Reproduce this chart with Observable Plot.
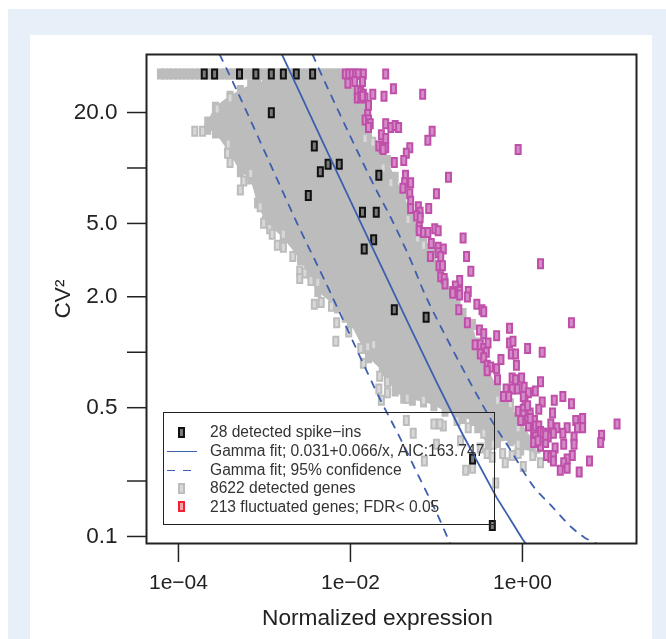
<!DOCTYPE html>
<html>
<head>
<meta charset="utf-8">
<script src="https://cdn.jsdelivr.net/npm/d3@7"></script>
<script src="https://cdn.jsdelivr.net/npm/@observablehq/plot@0.6"></script>
<style>
html,body{margin:0;padding:0;background:#fff;width:666px;height:639px;overflow:hidden;font-family:"Liberation Sans",Arial,sans-serif}
#outer{position:absolute;left:8px;top:9px;right:0;bottom:0;background:#e7eff8}
#inner{position:absolute;left:30px;top:35px;width:622px;bottom:0;background:#fff}
#chart{position:absolute;left:0;top:0;filter:blur(0.5px)}
#chart svg{background:transparent;display:block}
#xtitle{position:absolute;left:262px;top:604px;font-size:22.7px;line-height:26px;color:#222;white-space:nowrap;filter:blur(0.3px)}
#legend{position:absolute;left:163px;top:412px;width:332px;height:113px;border:1.5px solid #222;box-sizing:border-box;filter:blur(0.35px);color:#333;font-size:15.6px}
#legend .row{position:absolute;left:46px;white-space:nowrap;line-height:18px}
#legend .s{position:absolute;box-sizing:border-box}
</style>
</head>
<body>
<div id="outer"></div>
<div id="inner"></div>
<div id="chart"></div>
<div id="xtitle"></div>
<div id="legend"></div>
<script>
// Values: log10(normalized expression) and log10(CV²)
const topRowLogCV = 1.51;
const topRowGrayLogX = [-4.21,-4.16,-4.11,-4.06,-4.01,-3.96,-3.91,-3.86,-3.81,-3.76,-3.71,-3.66,-3.61,-3.56,-3.51,-3.46,-3.41,-3.36,-3.31,-3.26,-3.21,-3.16,-3.11,-3.06,-3.01,-2.96,-2.91,-2.86,-2.81,-2.76,-2.71,-2.66,-2.61,-2.56,-2.51,-2.46,-2.41,-2.36,-2.31,-2.26,-2.21,-2.16,-2.12];

// Solid part of the gene cloud (upper and lower edge at each expression level)
const cloudLogX  = [-3.66,-3.57,-3.40,-3.28,-3.16,-3.08,-2.99,-2.78,-2.58,-2.38,-2.15,-2.06,-2.00,-1.85,-1.79,-1.63,-1.57,-1.48,-1.38,-1.28,-1.15,-1.03,-0.90,-0.76,-0.69,-0.58,-0.52,-0.40,-0.29,-0.14,-0.02,0.13];
const cloudLogHi = [1.25,1.33,1.39,1.42,1.45,1.46,1.47,1.49,1.49,1.49,1.49,1.47,1.41,1.32,1.19,1.12,1.04,0.95,0.86,0.74,0.63,0.54,0.38,0.28,0.21,0.15,0.05,-0.09,-0.19,-0.29,-0.38,-0.48];
const cloudLogLo = [1.21,1.19,1.08,0.98,0.94,0.81,0.71,0.62,0.50,0.33,0.24,0.19,0.16,0.02,-0.03,-0.10,-0.15,-0.21,-0.25,-0.26,-0.27,-0.29,-0.32,-0.34,-0.36,-0.37,-0.41,-0.51,-0.49,-0.48,-0.53,-0.54];

// Isolated grey genes on the edge of the cloud
const grayLogX = [-3.81,-3.72,-3.55,-3.40,-3.42,-3.43,-3.40,-3.24,-3.16,-3.28,-3.05,-3.01,-2.94,-2.91,-2.78,-2.85,-2.78,-2.67,-2.59,-2.53,-2.59,-2.46,-2.38,-2.42,-2.34,-2.22,-2.16,-2.17,-2.02,-1.88,-1.80,-1.73,-1.85,-1.66,-1.57,-1.67,-1.57,-1.64,-1.34,-1.15,-1.35,-1.27,-1.14,-1.00,-1.03,-0.92,-0.66,-0.58,-0.31,-0.34,-0.45,-0.76,-0.96,-0.63,-0.72,-0.49,-0.41,-0.35,-0.23,-0.20,-0.12,-0.05,0.01,0.12,0.21,-0.05,0.17,-1.62,-1.53,-1.33,-1.22,-1.15,-1.74,-1.83,-0.14,-0.29,-0.05];
const grayLogCV = [1.20,1.20,1.32,1.38,1.13,1.08,1.03,0.93,0.97,0.88,0.79,0.70,0.67,0.64,0.64,0.58,0.57,0.52,0.44,0.43,0.40,0.39,0.38,0.26,0.27,0.25,0.16,0.06,0.11,0.02,0.03,0.04,-0.06,-0.13,-0.16,-0.20,-0.22,-0.26,-0.25,-0.26,-0.37,-0.44,-0.59,-0.50,-0.39,-0.40,-0.64,-0.63,-0.71,-0.50,-0.44,-0.37,-0.39,-0.41,-0.48,-0.52,-0.55,-0.57,-0.55,-0.60,-0.56,-0.50,-0.62,-0.56,-0.60,-0.55,-0.52,1.00,0.92,0.72,0.62,0.58,1.14,1.16,-0.28,-0.26,-0.41];

// Fluctuated genes
const flucLogX = [-2.06,-2.02,-1.98,-1.94,-1.91,-1.85,-2.03,-1.95,-1.86,-1.59,-1.50,-1.16,-1.61,-1.74,-1.92,-1.88,-1.85,-1.92,-1.88,-1.83,-1.86,-1.79,-1.80,-1.83,-1.79,-1.77,-1.79,-1.59,-1.53,-1.48,-1.44,-1.05,-1.10,-1.64,-1.59,-1.67,-1.63,-1.59,-1.62,-1.31,-1.35,-1.38,-1.49,-0.05,-1.36,-0.86,-1.37,-1.30,-1.39,-1.31,-1.00,-1.30,-1.30,-1.09,-1.21,-1.19,-1.23,-1.19,-1.20,-1.20,-1.15,-1.10,-1.02,-0.98,-0.69,-1.06,-0.98,-0.92,-0.98,-0.95,-1.07,-0.65,0.21,-0.97,-0.93,-0.60,-0.95,-0.91,-0.90,-0.73,-0.78,-0.81,-0.73,-0.63,-0.81,-0.73,-0.64,-0.53,-0.47,-0.45,-0.74,-0.64,0.57,-0.50,-0.45,-0.30,-0.15,-0.55,-0.49,-0.45,-0.40,-0.15,-0.11,0.06,0.23,-0.49,-0.42,-0.13,-0.08,-0.25,-0.45,-0.41,-0.37,-0.41,-0.30,-0.07,-0.29,-0.12,-0.08,-0.01,0.21,0.02,-0.06,-0.12,-0.19,0.15,0.07,-0.22,-0.16,0.03,0.37,0.47,0.57,0.23,0.19,-0.05,0.01,0.01,0.09,0.35,-0.02,0.06,0.14,0.07,0.62,0.70,0.70,0.64,1.10,0.33,0.52,0.40,0.13,0.19,0.29,0.36,0.47,0.60,0.92,0.91,0.15,0.23,0.30,0.13,0.21,0.27,0.48,0.60,0.38,0.58,0.28,0.33,0.36,0.36,0.52,0.78,0.48,0.44,0.52,0.66,0.01,0.06,0.09,0.15,0.19,0.21,0.24,0.27,0.18];
const flucLogCV = [1.51,1.51,1.51,1.51,1.51,1.51,1.46,1.47,1.47,1.51,1.43,1.40,1.39,1.40,1.42,1.41,1.40,1.38,1.38,1.38,1.39,1.34,1.29,1.26,1.26,1.24,1.22,1.24,1.22,1.23,1.22,1.20,1.15,1.18,1.16,1.12,1.11,1.11,1.10,1.11,1.08,1.04,1.03,1.10,0.96,0.95,0.92,0.92,0.89,0.86,0.86,0.82,0.78,0.78,0.79,0.76,0.74,0.73,0.68,0.66,0.65,0.65,0.67,0.66,0.62,0.59,0.57,0.56,0.54,0.52,0.52,0.52,0.48,0.47,0.47,0.44,0.41,0.40,0.37,0.39,0.36,0.33,0.33,0.33,0.32,0.31,0.30,0.26,0.23,0.22,0.23,0.16,0.16,0.12,0.10,0.09,0.13,0.04,0.04,0.02,0.05,0.05,0.06,0.02,0.00,-0.01,0.00,-0.01,-0.01,-0.04,-0.03,-0.07,-0.08,-0.10,-0.09,-0.07,-0.15,-0.14,-0.15,-0.14,-0.16,-0.19,-0.20,-0.20,-0.20,-0.21,-0.22,-0.24,-0.24,-0.26,-0.26,-0.24,-0.28,-0.27,-0.31,-0.32,-0.31,-0.34,-0.33,-0.33,-0.37,-0.37,-0.37,-0.40,-0.37,-0.36,-0.41,-0.41,-0.39,-0.39,-0.41,-0.41,-0.43,-0.44,-0.44,-0.44,-0.44,-0.46,-0.45,-0.49,-0.46,-0.47,-0.46,-0.49,-0.51,-0.49,-0.50,-0.50,-0.52,-0.56,-0.56,-0.57,-0.56,-0.59,-0.58,-0.59,-0.60,-0.64,-0.63,-0.65,-0.24,-0.29,-0.36,-0.40,-0.40,-0.43,-0.44,-0.45,-0.48];

// Spike-ins
const spikeLogX = [-3.70,-3.58,-3.29,-3.10,-2.92,-2.78,-2.63,-2.44,-2.92,-2.42,-2.35,-2.26,-2.13,-1.67,-2.49,-1.86,-1.70,-1.84,-1.73,-1.49,-1.12,-0.58,-0.35];
const spikeLogCV = [1.51,1.51,1.51,1.51,1.51,1.51,1.51,1.51,1.30,1.12,0.98,1.02,1.02,0.96,0.85,0.76,0.76,0.56,0.61,0.23,0.19,-0.58,-0.94];

// Fit curves
const fitX = [0.0015,0.002,0.005,0.01,0.02,0.05,0.1,0.2,0.5,1,1.2,2];
const fitY = [44,33,13.2,6.63,3.33,1.35,0.691,0.361,0.163,0.097,0.086,0.064];
const ciHiLogX = [-2.44,-2.33,-2.02,-1.71,-1.53,-1.30,-1.10,-0.41,-0.14,0.13,0.33,0.57,0.72,0.87];
const ciHiLogCV = [1.615,1.50,1.19,0.89,0.73,0.50,0.28,-0.33,-0.53,-0.73,-0.83,-0.95,-1.005,-1.04];
const ciLoLogX = [-3.52,-3.31,-2.95,-2.62,-2.31,-1.65,-1.45,-1.22,-0.99,-0.84];
const ciLoLogCV = [1.615,1.41,1.04,0.70,0.40,-0.26,-0.44,-0.66,-0.88,-1.04];

// Axes
const xTicks = [1e-4,1e-2,1];
const xTickLabels = ["1e\u221204","1e\u221202","1e+00"];
const yTicks = [20,10,5,2,1,0.5,0.2,0.1];
const yLabelled = [20,5,2,0.5,0.1];
const yTickLabels = ["20.0","5.0","2.0","0.5","0.1"];
const xDomain = [4.25e-5,21.2];
const yDomain = [0.0916,41.3];

const xTitle = "Normalized expression";
const yTitle = "CV\u00b2";
const legendLabels = ["28 detected spike\u2212ins","Gamma fit; 0.031+0.066/x, AIC:163.747","Gamma fit; 95% confidence","8622 detected genes","213 fluctuated genes; FDR< 0.05"];

const GRAY="#bcbcbc", MAG="#bf4fa8", BLUE="#3d5fae", INK="#222";
const pts = (lx,ly)=>lx.map((v,i)=>({x:10**v,y:10**ly[i]}));
const marker = {draw(ctx){ctx.rect(-2.5,-4.5,5,9);}};
const near = (t,d)=>Math.abs(t-d)<d*1e-6;

const topRow = topRowGrayLogX.map(v=>({x:10**v,y:10**topRowLogCV}));
const cloud = cloudLogX.map((v,i)=>({x:10**v,hi:10**cloudLogHi[i],lo:10**cloudLogLo[i]}));

const plot = Plot.plot({
  width:666,height:639,
  marginLeft:146,marginRight:30,marginTop:54,marginBottom:96,
  style:{background:"transparent",fontFamily:"'Liberation Sans',Arial,sans-serif",color:INK},
  x:{type:"log",domain:xDomain},
  y:{type:"log",domain:yDomain},
  marks:[
    Plot.areaY(cloud,{x:"x",y1:"lo",y2:"hi",fill:GRAY}),
    Plot.dot(topRow,{x:"x",y:"y",symbol:marker,stroke:GRAY,strokeWidth:2,fill:GRAY}),
    Plot.dot(cloud,{x:"x",y:"lo",symbol:marker,stroke:GRAY,strokeWidth:2,fill:GRAY}),
    Plot.dot(cloud,{x:"x",y:"hi",symbol:marker,stroke:GRAY,strokeWidth:2,fill:GRAY}),
    Plot.dot(pts(grayLogX,grayLogCV),{x:"x",y:"y",symbol:marker,stroke:GRAY,strokeWidth:2,fill:"#d8d8d8"}),
    Plot.dot(pts(flucLogX,flucLogCV),{x:"x",y:"y",symbol:marker,stroke:MAG,strokeWidth:2,fill:"#d48cc9"}),
    Plot.dot(pts(spikeLogX,spikeLogCV),{x:"x",y:"y",symbol:marker,stroke:"#111",strokeWidth:2,fill:"#7a7a7a"}),
    Plot.line(fitX.map((x,i)=>({x,y:fitY[i]})),{x:"x",y:"y",stroke:BLUE,strokeWidth:1.8,clip:"frame"}),
    Plot.line(pts(ciHiLogX,ciHiLogCV),{x:"x",y:"y",stroke:BLUE,strokeWidth:1.8,strokeDasharray:"7 8",clip:"frame",curve:"catmull-rom"}),
    Plot.line(pts(ciLoLogX,ciLoLogCV),{x:"x",y:"y",stroke:BLUE,strokeWidth:1.8,strokeDasharray:"7 8",clip:"frame",curve:"catmull-rom"}),
    Plot.frame({stroke:INK,strokeWidth:2}),
    Plot.axisX({ticks:xTicks,tickFormat:d=>xTickLabels[xTicks.findIndex(t=>near(t,d))],tickSize:19,tickPadding:12,fontSize:21,stroke:INK,strokeWidth:1.5,label:null}),
    Plot.axisY({ticks:yTicks,tickFormat:()=>"",tickSize:19,stroke:INK,strokeWidth:1.5,fontSize:22.5,label:yTitle,labelAnchor:"center",labelOffset:92,labelArrow:"none"}),
    Plot.text(yLabelled,{y:d=>d,text:(d,i)=>yTickLabels[i],frameAnchor:"left",textAnchor:"end",dx:-29,dy:-1,fontSize:22.5,fill:INK})
  ]
});
document.getElementById("chart").appendChild(plot);
document.getElementById("xtitle").textContent = xTitle;

// Legend, inside the plot box
const lg = document.getElementById("legend");
const rowY = [10,29,47.5,66,84.5];
legendLabels.forEach((t,i)=>{
  const d=document.createElement("div");d.className="row";d.style.top=rowY[i]+"px";d.textContent=t;lg.appendChild(d);
  const s=document.createElement("div");s.className="s";
  const mid=rowY[i]+9;
  if(i===1){s.style.cssText+=`left:3px;width:30px;top:${mid}px;border-top:1.8px solid ${BLUE}`;}
  else if(i===2){s.style.cssText+=`left:3px;width:8px;top:${mid}px;border-top:1.8px solid ${BLUE}`;
    const s2=document.createElement("div");s2.className="s";s2.style.cssText=`left:19px;width:8px;top:${mid}px;border-top:1.8px solid ${BLUE}`;lg.appendChild(s2);}
  else{
    const c=i===0?["#111","#7a7a7a"]:i===3?[GRAY,"#d8d8d8"]:["#ee2233","#f7a0a8"];
    s.style.cssText+=`left:14px;width:7px;height:11px;top:${mid-5.5}px;border:2px solid ${c[0]};background:${c[1]}`;
  }
  lg.appendChild(s);
});
</script>
</body>
</html>
